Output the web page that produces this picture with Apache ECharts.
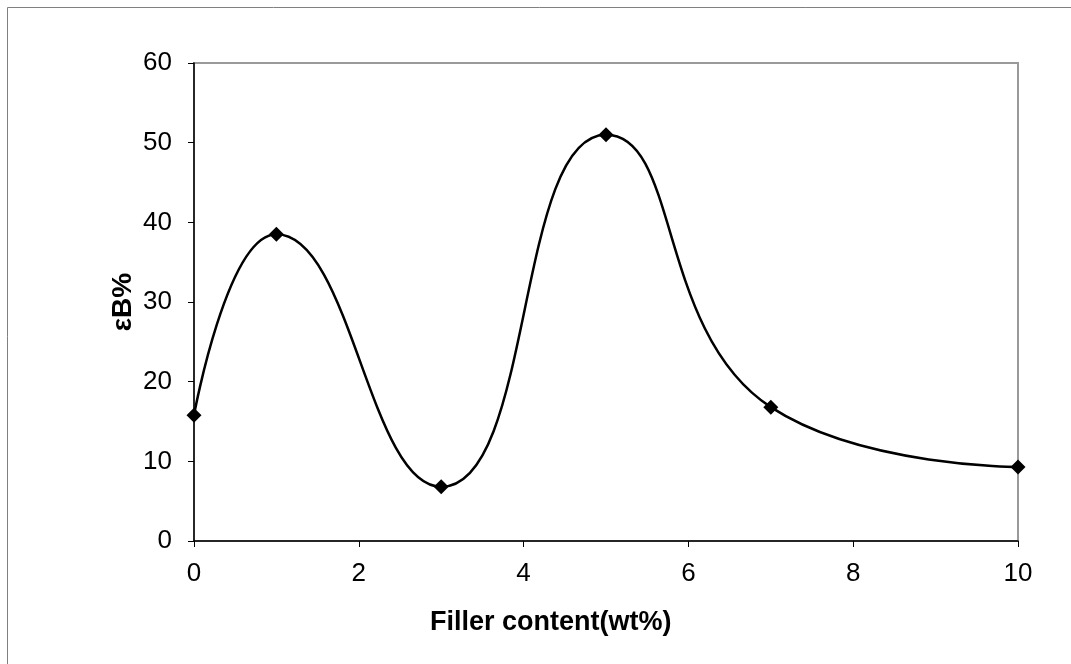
<!DOCTYPE html>
<html><head><meta charset="utf-8">
<script src="https://cdn.jsdelivr.net/npm/echarts@6/dist/echarts.min.js"></script>
<style>html,body{margin:0;padding:0;background:#fff}#c{width:1071px;height:664px}</style>
</head><body><div id="c"></div>
<script>
const fillerContent = [0, 1, 3, 5, 7, 10];
const elongation = [15.8, 38.5, 6.8, 51.0, 16.8, 9.3];
const xTicks = [0, 2, 4, 6, 8, 10];
const yTicks = [0, 10, 20, 30, 40, 50, 60];

const chart = echarts.init(document.getElementById('c'));
const font = 'Liberation Sans, Arial, sans-serif';
chart.setOption({
  animation: false,
  backgroundColor: '#fff',
  graphic: [
    {type: 'rect', shape: {x: 7.5, y: 7.5, width: 1070, height: 660}, style: {fill: 'none', stroke: '#808080', lineWidth: 1}},
    {type: 'text', left: 430, top: 609, style: {text: 'Filler content(wt%)', font: 'bold 27px ' + font, fill: '#000'}}
  ],
  grid: {left: 194, top: 63, right: 53, bottom: 123, show: true, borderColor: '#9a9a9a', borderWidth: 2, backgroundColor: '#fff'},
  xAxis: {
    type: 'value', min: 0, max: 10, interval: 2,
    axisLine: {show: true, lineStyle: {color: '#000', width: 1.5}},
    axisTick: {show: true, length: 6, lineStyle: {color: '#000'}},
    axisLabel: {fontSize: 26, color: '#000', fontFamily: font, margin: 20, formatter: v => xTicks.includes(v) ? String(v) : ''},
    splitLine: {show: false}
  },
  yAxis: {
    type: 'value', min: 0, max: 60, interval: 10,
    name: 'εB%', nameLocation: 'middle', nameGap: 57, nameRotate: 90, nameMoveOverlap: false,
    nameTextStyle: {fontSize: 28, fontWeight: 'bold', color: '#000', fontFamily: font},
    axisLine: {show: true, lineStyle: {color: '#000', width: 1.5}},
    axisTick: {show: true, length: 6, lineStyle: {color: '#000'}},
    axisLabel: {fontSize: 26, color: '#000', fontFamily: font, margin: 22, formatter: v => yTicks.includes(v) ? String(v) : ''},
    splitLine: {show: false}
  },
  series: [{
    type: 'line',
    data: fillerContent.map((x, i) => [x, elongation[i]]),
    smooth: 0.5,
    symbol: 'diamond', symbolSize: 15,
    itemStyle: {color: '#000'},
    lineStyle: {color: '#000', width: 2.5}
  }]
});
</script></body></html>
